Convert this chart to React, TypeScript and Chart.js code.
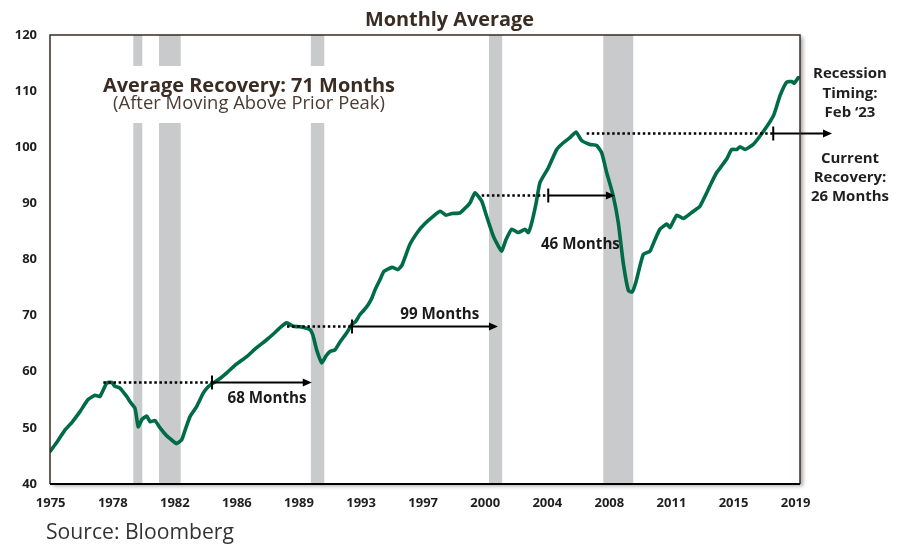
import React, { useEffect, useRef } from "react";
import { Chart, registerables } from "chart.js";

Chart.register(...registerables);

// ---------------- DATA ----------------
const TICK_LABELS = ["1975", "1978", "1982", "1986", "1989", "1993", "1997", "2000", "2004", "2008", "2011", "2015", "2019"];
const TICK_START = 1975.0;
const TICK_STEP_MONTHS = 44;
const X_MIN = 1974.96;
const X_MAX = 2019.26;
const Y_MIN = 40;
const Y_MAX = 120;
const Y_STEP = 10;

const YEARS: number[] = [
  1974.96, 1975.31, 1975.84, 1976.26, 1976.73, 1977.2, 1977.62, 1977.91, 1978.31, 1978.6,
  1978.8, 1979.09, 1979.49, 1979.68, 1979.98, 1980.17, 1980.39, 1980.67, 1980.87, 1981.16,
  1981.46, 1981.85, 1982.17, 1982.44, 1982.74, 1982.93, 1983.23, 1983.62, 1984.01, 1984.29,
  1984.6, 1985.0, 1985.4, 1985.95, 1986.58, 1987.13, 1987.76, 1988.25, 1988.6, 1988.94,
  1989.33, 1989.73, 1990.32, 1990.49, 1990.71, 1991.01, 1991.26, 1991.5, 1991.79, 1992.09,
  1992.48, 1992.78, 1993.03, 1993.27, 1993.51, 1993.76, 1993.98, 1994.16, 1994.45, 1994.69,
  1995.16, 1995.51, 1995.75, 1996.22, 1996.7, 1997.11, 1997.52, 1998.0, 1998.35, 1998.7,
  1999.18, 1999.77, 2000.06, 2000.46, 2000.75, 2001.14, 2001.42, 2001.64, 2001.89, 2002.23,
  2002.62, 2003.02, 2003.21, 2003.41, 2003.67, 2003.9, 2004.39, 2004.89, 2005.28, 2005.67,
  2006.03, 2006.36, 2006.86, 2007.25, 2007.55, 2007.84, 2008.23, 2008.53, 2008.82, 2009.12,
  2009.34, 2009.57, 2010.0, 2010.4, 2010.69, 2010.99, 2011.39, 2011.58, 2011.98, 2012.37,
  2012.96, 2013.35, 2013.75, 2014.0, 2014.34, 2014.59, 2014.93, 2015.22, 2015.52, 2015.72,
  2016.01, 2016.5, 2016.9, 2017.39, 2017.69, 2017.85, 2018.08, 2018.47, 2018.77, 2018.91,
  2019.16,
];

const VALUES: number[] = [
  45.8, 47.2, 49.6, 51.0, 52.9, 55.0, 55.8, 55.6, 58.0, 58.1,
  57.4, 57.1, 55.6, 54.7, 53.5, 50.2, 51.5, 52.1, 51.1, 51.3,
  50.0, 48.6, 47.8, 47.2, 47.9, 49.5, 52.0, 53.8, 56.2, 57.3,
  58.0, 58.8, 59.8, 61.3, 62.7, 64.2, 65.7, 67.0, 68.0, 68.7,
  68.1, 68.0, 67.5, 66.5, 63.9, 61.6, 62.8, 63.6, 63.9, 65.3,
  66.9, 68.4, 69.0, 70.2, 71.0, 72.0, 73.2, 74.6, 76.4, 77.9,
  78.6, 78.2, 79.0, 82.7, 85.0, 86.4, 87.5, 88.6, 87.9, 88.2,
  88.3, 90.1, 91.9, 90.4, 87.7, 84.2, 82.5, 81.5, 83.5, 85.4,
  84.8, 85.4, 84.8, 86.5, 90.0, 93.7, 96.3, 99.6, 100.8, 101.7,
  102.7, 101.2, 100.5, 100.3, 99.0, 95.5, 91.3, 86.5, 79.4, 74.5,
  74.2, 76.0, 80.9, 81.5, 83.5, 85.4, 86.3, 85.7, 87.9, 87.3,
  88.6, 89.5, 91.9, 93.5, 95.5, 96.5, 97.9, 99.6, 99.6, 100.1,
  99.6, 100.5, 102.0, 104.1, 105.6, 107.0, 109.2, 111.6, 111.7, 111.4,
  112.4,
];

// Recession periods (start, end) in years
const RECESSION_START: number[] = [1979.88, 1981.4, 1990.37, 2000.89, 2007.64];
const RECESSION_END: number[] = [1980.41, 1982.68, 1991.16, 2001.67, 2009.41];

// Recovery annotations: prior peak start, level, crossing point, arrow end, label
const REC_PEAK_START: number[] = [1978.11, 1988.96, 2000.46, 2006.66];
const REC_LEVEL: number[] = [58.1, 68.1, 91.5, 102.6];
const REC_CROSS: number[] = [1984.53, 1992.8, 2004.39, 2017.68];
const REC_ARROW_END: number[] = [1990.42, 2001.42, 2008.33, 2021.15];
const REC_LABELS: string[] = ["68 Months", "99 Months", "46 Months", ""];
const REC_LABEL_X: number[] = [1987.78, 1997.98, 2006.29, 0];
const REC_LABEL_Y: number[] = [55.2, 70.2, 82.7, 0];

const TITLE = "Monthly Average";
const AVG_LINE1 = "Average Recovery: 71 Months";
const AVG_LINE2 = "(After Moving Above Prior Peak)";
const RIGHT_TOP = ["Recession", "Timing:", "Feb \u201823"];
const RIGHT_BOTTOM = ["Current", "Recovery:", "26 Months"];
const SOURCE = "Source: Bloomberg";

// ---------------- STYLE ----------------
const LINE_COLOR = "#006b47";
const BAND_COLOR = "#c9cacc";
const BROWN = "#3a2c23";
const FONT = "'Open Sans', Lato, sans-serif";

function fitFont(ctx: CanvasRenderingContext2D, text: string, weight: string, targetWidth: number) {
  ctx.font = `${weight} 20px ${FONT}`;
  const w = ctx.measureText(text).width || 1;
  const size = (20 * targetWidth) / w;
  ctx.font = `${weight} ${size.toFixed(2)}px ${FONT}`;
  return size;
}

const decoPlugin = {
  id: "deco",
  beforeDraw(chart: any) {
    const { ctx, chartArea: a } = chart;
    ctx.save();
    ctx.fillStyle = "#ffffff";
    ctx.fillRect(0, 0, chart.width, chart.height);
    ctx.shadowColor = "rgba(0,0,0,0.35)";
    ctx.shadowBlur = 4;
    ctx.shadowOffsetX = 3;
    ctx.shadowOffsetY = 2;
    ctx.fillRect(a.left, a.top, a.right - a.left, a.bottom - a.top);
    ctx.restore();
  },
  beforeDatasetsDraw(chart: any) {
    const { ctx, chartArea: a, scales } = chart;
    const xs = scales.x;
    ctx.save();
    ctx.beginPath();
    ctx.rect(a.left, a.top, a.right - a.left, a.bottom - a.top);
    ctx.clip();
    ctx.fillStyle = BAND_COLOR;
    RECESSION_START.forEach((s, i) => {
      const x0 = xs.getPixelForValue(s);
      const x1 = xs.getPixelForValue(RECESSION_END[i]);
      ctx.fillRect(x0, a.top, x1 - x0, a.bottom - a.top);
    });
    // white panel behind the average recovery text
    ctx.fillStyle = "#ffffff";
    ctx.fillRect(a.left + 50, a.top + 31, 300, 57);
    ctx.restore();
  },
  afterDatasetsDraw(chart: any) {
    const { ctx, chartArea: a, scales } = chart;
    const xs = scales.x;
    const ys = scales.y;
    ctx.save();
    REC_LEVEL.forEach((lvl, i) => {
      const y = Math.round(ys.getPixelForValue(lvl)) + 0.5;
      const xp = xs.getPixelForValue(REC_PEAK_START[i]);
      const xc = xs.getPixelForValue(REC_CROSS[i]);
      const xe = xs.getPixelForValue(REC_ARROW_END[i]);
      ctx.strokeStyle = "#000";
      ctx.lineWidth = 2.5;
      ctx.setLineDash([2.5, 2.6]);
      ctx.beginPath();
      ctx.moveTo(xp, y);
      ctx.lineTo(xc, y);
      ctx.stroke();
      ctx.setLineDash([]);
      ctx.lineWidth = 2;
      ctx.beginPath();
      ctx.moveTo(xc, y - 7);
      ctx.lineTo(xc, y + 7);
      ctx.stroke();
      ctx.beginPath();
      ctx.moveTo(xc, y);
      ctx.lineTo(xe - 6, y);
      ctx.stroke();
      ctx.fillStyle = "#000";
      ctx.beginPath();
      ctx.moveTo(xe, y);
      ctx.lineTo(xe - 9, y - 4);
      ctx.lineTo(xe - 9, y + 4);
      ctx.closePath();
      ctx.fill();
      if (REC_LABELS[i]) {
        fitFont(ctx, REC_LABELS[i], "bold", 79);
        ctx.fillStyle = "#1a1a1a";
        ctx.textAlign = "center";
        ctx.textBaseline = "middle";
        ctx.fillText(REC_LABELS[i], xs.getPixelForValue(REC_LABEL_X[i]), ys.getPixelForValue(REC_LABEL_Y[i]));
      }
    });
    ctx.lineCap = "butt";
    ctx.strokeStyle = BROWN;
    ctx.lineWidth = 1.5;
    ctx.beginPath();
    ctx.moveTo(a.left, a.bottom);
    ctx.lineTo(a.left, a.top);
    ctx.lineTo(a.right, a.top);
    ctx.lineTo(a.right, a.bottom);
    ctx.stroke();
    ctx.strokeStyle = "#000";
    ctx.lineWidth = 2;
    ctx.beginPath();
    ctx.moveTo(a.left, a.bottom);
    ctx.lineTo(a.right, a.bottom);
    ctx.stroke();
    ctx.restore();
  },
  afterDraw(chart: any) {
    const { ctx, chartArea: a } = chart;
    ctx.save();
    ctx.textAlign = "center";
    ctx.textBaseline = "middle";
    ctx.fillStyle = BROWN;
    fitFont(ctx, TITLE, "bold", 169);
    ctx.fillText(TITLE, 449.5, 20);
    fitFont(ctx, AVG_LINE1, "bold", 292);
    ctx.fillText(AVG_LINE1, a.left + 199, 86);
    ctx.fillStyle = "#4a3c33";
    fitFont(ctx, AVG_LINE2, "normal", 272);
    ctx.fillText(AVG_LINE2, a.left + 199, 104);
    ctx.fillStyle = "#1f1f1f";
    fitFont(ctx, "26 Months", "bold", 78);
    RIGHT_TOP.forEach((t, i) => ctx.fillText(t, 850, 74 + i * 19.3));
    RIGHT_BOTTOM.forEach((t, i) => ctx.fillText(t, 850, 158.5 + i * 19.2));
    ctx.textAlign = "left";
    ctx.fillStyle = "#333333";
    fitFont(ctx, SOURCE, "normal", 188);
    ctx.fillText(SOURCE, 46, 533);
    ctx.restore();
  },
};

export default function App() {
  const ref = useRef<HTMLCanvasElement | null>(null);

  useEffect(() => {
    if (!ref.current) return;
    const chart = new Chart(ref.current, {
      type: "line",
      data: {
        datasets: [
          {
            data: YEARS.map((x, i) => ({ x, y: VALUES[i] })),
            borderColor: LINE_COLOR,
            borderWidth: 3.6,
            pointRadius: 0,
            tension: 0.15,
            borderJoinStyle: "round",
            borderCapStyle: "round",
          },
        ],
      },
      options: {
        responsive: false,
        animation: false,
        devicePixelRatio: 1,
        layout: { padding: { top: 35, right: 103, left: 0, bottom: 0 } },
        plugins: { legend: { display: false }, tooltip: { enabled: false }, title: { display: false } },
        scales: {
          x: {
            type: "linear",
            min: X_MIN,
            max: X_MAX,
            grid: { display: false, drawTicks: false },
            border: { display: false },
            afterBuildTicks: (s: any) => {
              s.ticks = TICK_LABELS.map((_, i) => ({ value: TICK_START + (i * TICK_STEP_MONTHS) / 12 }));
            },
            afterFit: (s: any) => {
              s.height = 61;
            },
            ticks: {
              autoSkip: false,
              maxRotation: 0,
              minRotation: 0,
              padding: 11,
              color: "#1f1f1f",
              font: { family: FONT, size: 13, weight: "bold" },
              callback: (_v: any, i: number) => TICK_LABELS[i],
            },
          },
          y: {
            min: Y_MIN,
            max: Y_MAX,
            grid: { display: false, drawTicks: false },
            border: { display: false },
            afterFit: (s: any) => {
              s.width = 50;
            },
            ticks: {
              stepSize: Y_STEP,
              padding: 13,
              color: "#1f1f1f",
              font: { family: FONT, size: 13, weight: "bold" },
            },
          },
        },
      },
      plugins: [decoPlugin],
    });
    return () => chart.destroy();
  }, []);

  return (
    <div style={{ position: "absolute", left: 0, top: 0, width: 903, height: 545, background: "#fff" }}>
      <canvas ref={ref} width={903} height={545} style={{ width: 903, height: 545, display: "block" }} />
    </div>
  );
}
